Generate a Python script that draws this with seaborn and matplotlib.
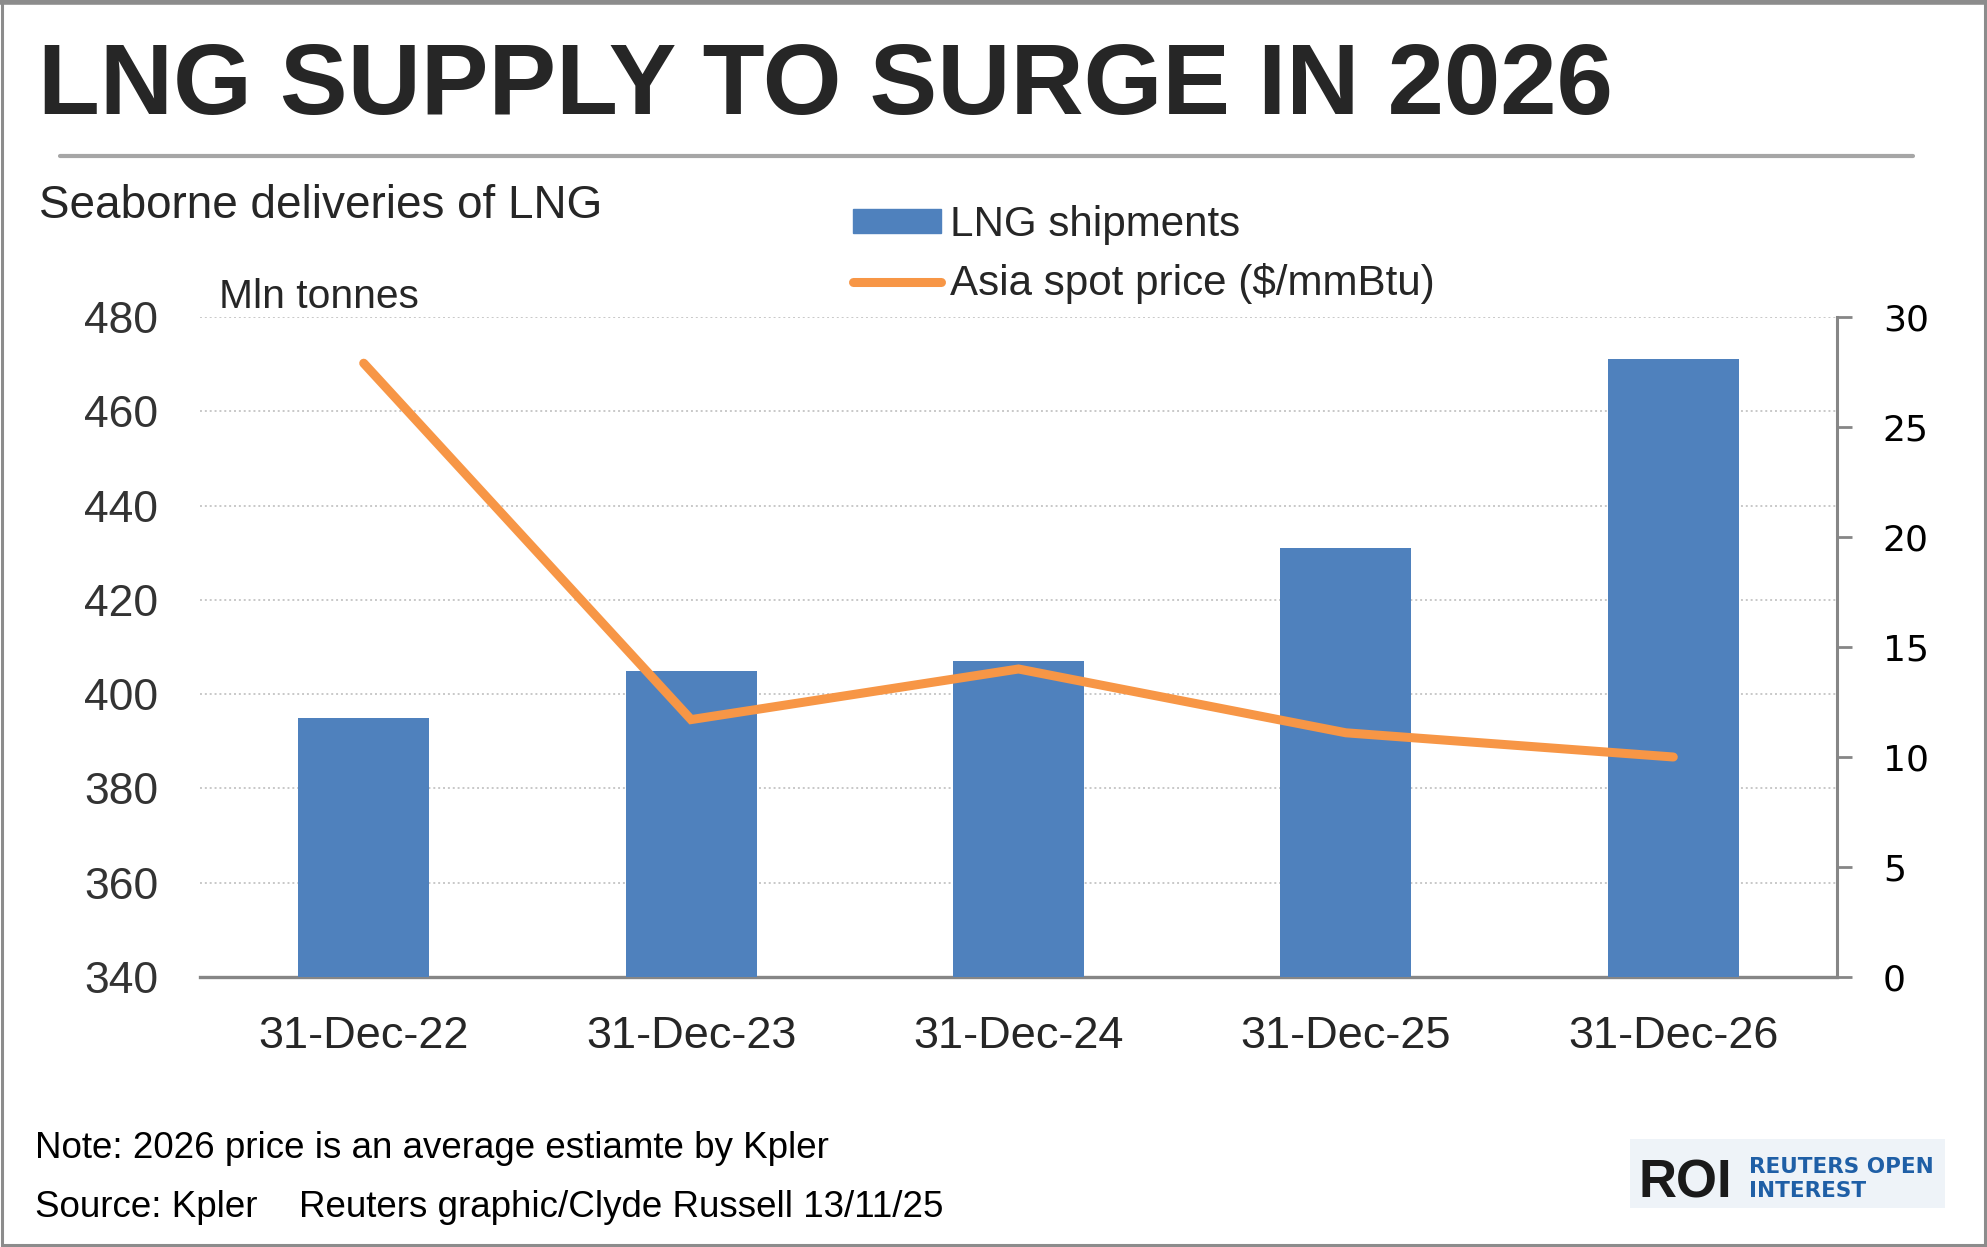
import matplotlib.pyplot as plt
import matplotlib.patches as mpatches
import matplotlib.lines as mlines
import numpy as np
import pandas as pd
import seaborn as sns

# data
years = ['31-Dec-22', '31-Dec-23', '31-Dec-24', '31-Dec-25', '31-Dec-26']
shipments = [395, 405, 407, 431, 471]          # Mln tonnes
spot_price = [27.9, 11.7, 14.0, 11.1, 10.0]    # $/mmBtu
left_ticks = [340, 360, 380, 400, 420, 440, 460, 480]
right_ticks = [0, 5, 10, 15, 20, 25, 30]

df = pd.DataFrame({'year': years, 'shipments': shipments, 'price': spot_price})

W, H = 1987, 1247
BLUE = '#4f81bd'
ORANGE = '#f79646'
TXT = '#262626'
GREY = '#868686'

sns.set_theme(style='white')
plt.rcParams['font.family'] = ['Liberation Sans', 'DejaVu Sans']


def fx(x):
    return x / W


def fy(y):
    return 1 - y / H


fig = plt.figure(figsize=(W / 100, H / 100), dpi=100)
fig.patch.set_facecolor('white')

# plot area in pixels: left 200, right 1837, top 317, bottom 977
ax = fig.add_axes([fx(200), fy(977), (1837 - 200) / W, (977 - 317) / H])
sns.barplot(data=df, x='year', y='shipments', color=BLUE, saturation=1,
            width=0.4, linewidth=0, ax=ax, zorder=3)
ax.set_ylim(340, 480)
ax.set_xlim(-0.5, len(years) - 0.5)
ax.set_yticks(left_ticks)
ax.set_xlabel('')
ax.set_ylabel('')
ax.yaxis.grid(True, linestyle=(0, (1, 1.5)), color='#c8c8c8', linewidth=1.4, zorder=0)
ax.set_axisbelow(True)
for s in ['left', 'top', 'right']:
    ax.spines[s].set_visible(False)
ax.spines['bottom'].set_color(GREY)
ax.spines['bottom'].set_linewidth(2.4)
ax.tick_params(axis='y', length=0, pad=30, labelsize=32, labelcolor='#333333')
ax.tick_params(axis='x', which='major', length=0, pad=28, labelsize=32.5, labelcolor=TXT)
ax.set_xticks(np.arange(-0.5, len(years)), minor=True)
ax.tick_params(axis='x', which='minor', length=12, width=1.6, color=GREY, direction='out')

ax2 = ax.twinx()
sns.pointplot(data=df, x='year', y='price', color=ORANGE, markers='',
              linewidth=6.5, errorbar=None, ax=ax2)
for ln in ax2.lines:
    ln.set_solid_capstyle('round')
    ln.set_solid_joinstyle('miter')
ax2.set_ylim(0, 30)
ax2.set_xlim(-0.5, len(years) - 0.5)
ax2.set_yticks(right_ticks)
ax2.set_xlabel('')
ax2.set_ylabel('')
for s in ['left', 'top', 'bottom']:
    ax2.spines[s].set_visible(False)
ax2.spines['right'].set_visible(True)
ax2.spines['right'].set_color(GREY)
ax2.spines['right'].set_linewidth(2.2)
ax2.tick_params(axis='y', length=11, width=2, color=GREY, direction='out', pad=22,
                labelsize=26, labelcolor='black')
for lab in ax2.get_yticklabels():
    lab.set_family('DejaVu Sans')

# legend
bar_handle = mpatches.Patch(color=BLUE, label='LNG shipments')
line_handle = mlines.Line2D([], [], color=ORANGE, linewidth=6.5, solid_capstyle='round',
                            label='Asia spot price ($/mmBtu)')
leg = fig.legend(handles=[bar_handle, line_handle], loc='upper left',
                 bbox_to_anchor=(fx(853), fy(205)), frameon=False, fontsize=30.3,
                 handlelength=2.1, handleheight=0.5, handletextpad=0.2,
                 labelspacing=0.43, borderpad=0, borderaxespad=0)
for t in leg.get_texts():
    t.set_color(TXT)

# titles and labels
fig.text(fx(38), fy(114), 'LNG SUPPLY TO SURGE IN 2026', fontsize=73,
         fontweight='bold', color=TXT, va='baseline', ha='left')
fig.add_artist(mlines.Line2D([fx(60), fx(1913)], [fy(156), fy(156)],
                             color='#a6a6a6', linewidth=3))
fig.text(fx(39), fy(218), 'Seaborne deliveries of LNG', fontsize=33,
         color=TXT, va='baseline', ha='left')
fig.text(fx(219), fy(308), 'Mln tonnes', fontsize=29.3, color=TXT,
         va='baseline', ha='left')

fig.text(fx(35), fy(1158), 'Note: 2026 price is an average estiamte by Kpler',
         fontsize=26.5, color='black', va='baseline', ha='left')
fig.text(fx(35), fy(1217), 'Source: Kpler', fontsize=26.5, color='black',
         va='baseline', ha='left')
fig.text(fx(299), fy(1217), 'Reuters graphic/Clyde Russell 13/11/25', fontsize=26.5,
         color='black', va='baseline', ha='left')

# ROI logo block
fig.add_artist(mpatches.Rectangle((fx(1630), fy(1208)), (1945 - 1630) / W, (1208 - 1139) / H,
                                  transform=fig.transFigure, facecolor='#eef3f8',
                                  edgecolor='none'))
fig.text(fx(1638), fy(1197), 'ROI', fontsize=38, fontweight='bold', color='#1a1a1a',
         va='baseline', ha='left')
fig.text(fx(1749), fy(1173), 'REUTERS OPEN', fontsize=15.5, color='#1f5fa6',
         family='DejaVu Sans', fontweight='bold', va='baseline', ha='left')
fig.text(fx(1749), fy(1197), 'INTEREST', fontsize=15.5, color='#1f5fa6',
         family='DejaVu Sans', fontweight='bold', va='baseline', ha='left')

# outer frame
frame = mpatches.Rectangle((fx(1.5), fy(1245)), (W - 4) / W, (1245 - 2) / H,
                           transform=fig.transFigure, facecolor='none',
                           edgecolor='#8c8c8c', linewidth=2.2)
fig.add_artist(frame)
fig.add_artist(mlines.Line2D([0, 1], [fy(2), fy(2)], color='#8c8c8c', linewidth=4))

fig.savefig('out.png', dpi=100, facecolor='white')
